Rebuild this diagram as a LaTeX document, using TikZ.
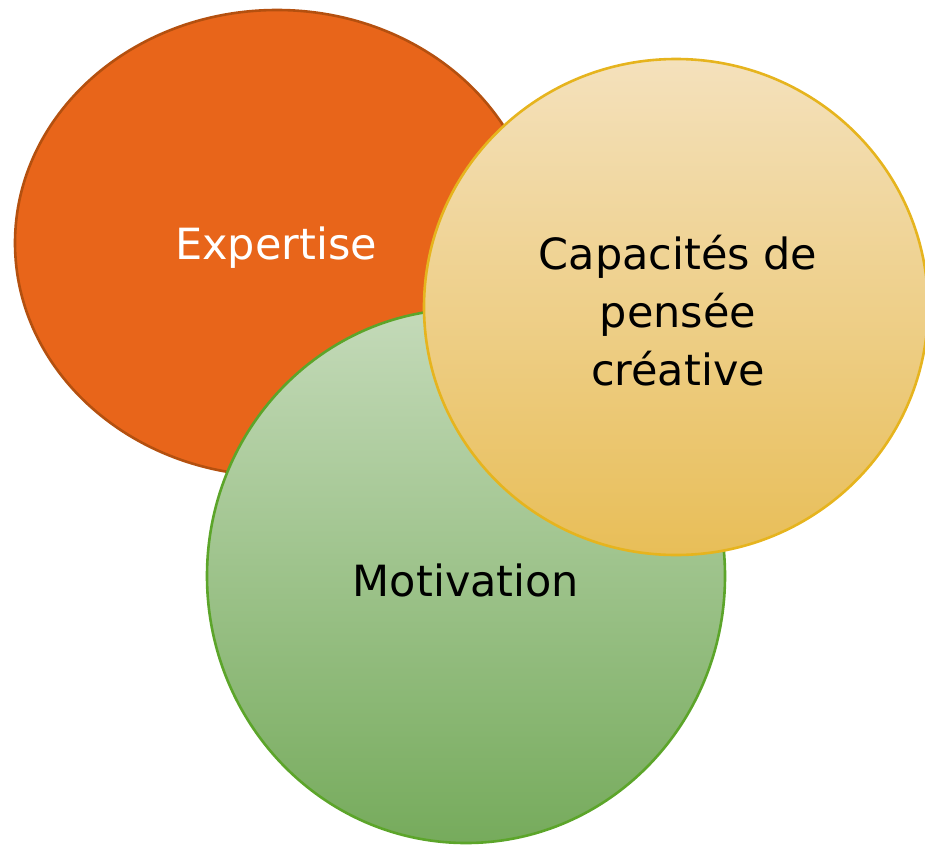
\documentclass[tikz,border=0pt]{standalone}
\usepackage{fontspec}
\setmainfont{DejaVu Sans}
\usetikzlibrary{shapes.geometric}
\definecolor{expfill}{RGB}{232,101,26}
\definecolor{expline}{RGB}{180,80,15}
\definecolor{mottop}{RGB}{196,218,185}
\definecolor{motbot}{RGB}{118,171,92}
\definecolor{motline}{RGB}{92,165,42}
\definecolor{captop}{RGB}{244,225,188}
\definecolor{capbot}{RGB}{232,190,88}
\definecolor{capline}{RGB}{230,180,30}
\tikzset{
  blob/.style={ellipse, inner sep=0pt, line width=2.6pt, align=center,
    font=\fontsize{43}{58}\selectfont},
}
\begin{document}
\begin{tikzpicture}[x=1pt, y=-1pt]
  \useasboundingbox (0,0) rectangle (925,846);
  % three overlapping circles, back to front
  \node[blob, draw=expline, fill=expfill, text=white,
        minimum width=524pt, minimum height=466pt] (expertise) at (277,243) {};
  \node[text=white, font=\fontsize{43}{58}\selectfont] (exptext) at (276,248) {Expertise};
  \node[blob, draw=motline, top color=mottop, bottom color=motbot,
        minimum width=518pt, minimum height=534pt] (motivation) at (466,576) {};
  \node[font=\fontsize{43}{58}\selectfont] (mottext) at (466,580) {Motivation};
  \node[blob, draw=capline, top color=captop, bottom color=capbot,
        minimum width=504pt, minimum height=496pt] (capacites) at (676,307) {};
  \node[align=center, font=\fontsize{43}{58}\selectfont] (captext) at (678,311)
        {Capacités de\\pensée\\créative};
\end{tikzpicture}
\end{document}
